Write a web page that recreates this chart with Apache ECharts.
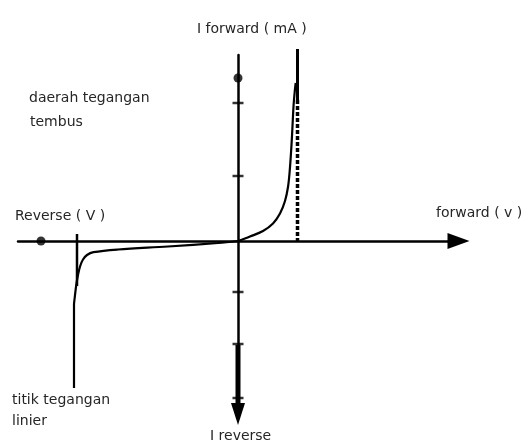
<!DOCTYPE html>
<html>
<head>
<meta charset="utf-8">
<script src="https://cdn.jsdelivr.net/npm/echarts@6/dist/echarts.min.js"></script>
<style>
html,body{margin:0;padding:0;background:#fff;}
#chart{width:525px;height:443px;}
</style>
</head>
<body>
<div id="chart"></div>
<script>
// Diode I-V characteristic (schematic units)
const reverseCurve = [[-16.4,-14.7],[-16.4,-6.4],[-16.32,-5.6],[-16.16,-4.3],[-15.98,-3.3],[-15.78,-2.5],[-15.5,-1.85],[-15.1,-1.4],[-14.45,-1.12],[-12.0,-0.85],[-7.0,-0.55],[-2.0,-0.2],[0,0]];
const forwardCurve = [[0,0],[1.2,0.45],[2.5,1.0],[3.5,1.75],[4.2,2.75],[4.7,4.0],[5.0,5.4],[5.17,7.0],[5.3,8.8],[5.4,10.5],[5.48,12.1],[5.56,13.6],[5.66,14.8],[5.77,15.8]];
const kneeSolid = [[5.95,19.2],[5.95,14.1]];
const kneeDashed = [[5.95,14.1],[5.95,0]];
const breakdownMark = [[-16.1,0.7],[-16.1,-4.5]];
const yReverseThick = [[0,-10.4],[0,-16.4]];
const yTickValues = [13.8, 6.5, -5.1, -10.3, -15.7];
const axisDots = [[0,16.3],[-19.7,0]];
const labels = [
  {text:'I forward ( mA )', x:197, y:22},
  {text:'daerah tegangan', x:29, y:91},
  {text:'tembus', x:30, y:115},
  {text:'Reverse ( V )', x:15, y:209},
  {text:'forward ( v )', x:436, y:206},
  {text:'titik tegangan', x:12, y:393},
  {text:'linier', x:12, y:414},
  {text:'I reverse', x:210, y:429}
];

const chart = echarts.init(document.getElementById('chart'), null, {renderer:'canvas'});
const lineBase = {type:'line', symbol:'none', clip:false, silent:true, z:3};
chart.setOption({
  animation:false,
  backgroundColor:'#fff',
  grid:{left:18, right:66.5, top:55, bottom:29, containLabel:false},
  xAxis:{type:'value', min:-22, max:22.05,
    axisLine:{onZero:true, symbol:['none','triangle'], symbolSize:[16,22], lineStyle:{color:'#000', width:2.5}},
    axisTick:{show:false}, axisLabel:{show:false}, splitLine:{show:false}},
  yAxis:{type:'value', min:-17.3, max:18.6,
    axisLine:{onZero:true, symbol:['triangle','none'], symbolSize:[14,22], lineStyle:{color:'#000', width:2.5}},
    axisTick:{show:false}, axisLabel:{show:false}, splitLine:{show:false}},
  graphic: labels.map(l => ({type:'text', left:l.x, top:l.y, style:{text:l.text, fill:'#262626', font:'14px "DejaVu Sans", sans-serif'}})),
  series:[
    Object.assign({}, lineBase, {data: reverseCurve, smooth:0.35, lineStyle:{color:'#000', width:2.2}}),
    Object.assign({}, lineBase, {data: forwardCurve, smooth:0.35, lineStyle:{color:'#000', width:2.2}}),
    Object.assign({}, lineBase, {data: kneeSolid, lineStyle:{color:'#000', width:3}}),
    Object.assign({}, lineBase, {data: kneeDashed, lineStyle:{color:'#000', width:3.5, type:[4,2]}}),
    Object.assign({}, lineBase, {data: breakdownMark, lineStyle:{color:'#000', width:2.5}}),
    Object.assign({}, lineBase, {data: yReverseThick, lineStyle:{color:'#000', width:5}}),
    {type:'scatter', data: yTickValues.map(v => [0, v]), symbol:'rect', symbolSize:[11,2.5], itemStyle:{color:'#000'}, silent:true, clip:false, z:4},
    {type:'scatter', data: axisDots, symbol:'circle', symbolSize:9, itemStyle:{color:'#000'}, silent:true, clip:false, z:4}
  ]
});
</script>
</body>
</html>
